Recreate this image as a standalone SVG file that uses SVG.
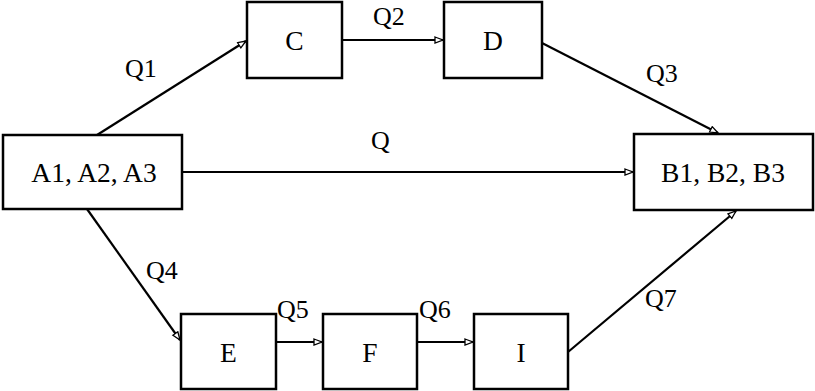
<svg xmlns="http://www.w3.org/2000/svg" width="815" height="391" viewBox="0 0 815 391">
<defs>
<marker id="arr" markerUnits="userSpaceOnUse" markerWidth="12" markerHeight="10" refX="9" refY="4" orient="auto">
<path d="M1,1 L9,4 L1,7 Z" fill="#fff" stroke="#000" stroke-width="1.3"/>
</marker>
<style>
.box{fill:#fff;stroke:#000;stroke-width:2.5}
.t{font-family:"Liberation Serif","Times New Roman",serif;font-size:26px;fill:#000}
.n{font-size:27.5px;text-anchor:middle}
.c{stroke:#000;stroke-width:2.2;fill:none;marker-end:url(#arr)}
</style>
</defs>
<rect width="815" height="391" fill="#fff"/>
<g id="connectors">
<line class="c" x1="97" y1="135" x2="246" y2="41"/>
<line class="c" x1="342" y1="40" x2="443" y2="40"/>
<line class="c" x1="542" y1="43" x2="718" y2="133"/>
<line class="c" x1="182" y1="172" x2="633" y2="172"/>
<line class="c" x1="87" y1="209" x2="180" y2="340"/>
<line class="c" x1="276" y1="342" x2="322" y2="342"/>
<line class="c" x1="417" y1="342" x2="473" y2="342"/>
<line class="c" x1="568" y1="352" x2="736" y2="211"/>
<text class="t" x="125" y="77">Q1</text>
<text class="t" x="373" y="25">Q2</text>
<text class="t" x="646" y="82">Q3</text>
<text class="t" x="371" y="149">Q</text>
<text class="t" x="146" y="279">Q4</text>
<text class="t" x="277" y="318">Q5</text>
<text class="t" x="419" y="318">Q6</text>
<text class="t" x="645" y="307">Q7</text>
</g>
<g id="A"><rect class="box" x="3" y="135" width="179" height="74"/><text class="t n" x="94" y="182">A1, A2, A3</text></g>
<g id="C"><rect class="box" x="247" y="2" width="95" height="76"/><text class="t n" x="294.5" y="50">C</text></g>
<g id="D"><rect class="box" x="444" y="2" width="98" height="76"/><text class="t n" x="493" y="50">D</text></g>
<g id="B"><rect class="box" x="634" y="134" width="179" height="76"/><text class="t n" x="723" y="182">B1, B2, B3</text></g>
<g id="E"><rect class="box" x="181" y="314" width="95" height="75"/><text class="t n" x="228.5" y="362">E</text></g>
<g id="F"><rect class="box" x="323" y="314" width="94" height="75"/><text class="t n" x="370" y="362">F</text></g>
<g id="I"><rect class="box" x="474" y="314" width="94" height="75"/><text class="t n" x="521" y="362">I</text></g>
</svg>
